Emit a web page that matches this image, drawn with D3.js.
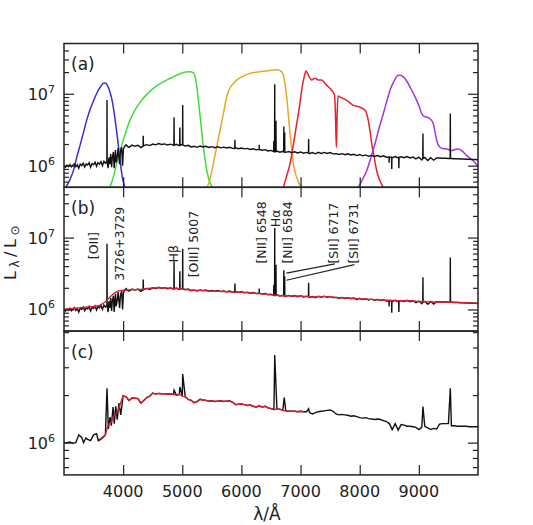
<!DOCTYPE html>
<html><head><meta charset="utf-8">
<script src="https://cdn.jsdelivr.net/npm/d3@7"></script>
<style>
body{margin:0;background:#fff}
text{font-family:"DejaVu Sans",sans-serif;fill:#222}
</style>
</head><body><svg id="c" width="533" height="525"></svg>
<script>
// ---------- DATA (luminosity in units of 1e6 L_sun) ----------
const xTicks = [4000, 5000, 6000, 7000, 8000, 9000];
const yMajorAB = [1, 10];
const yMinorAB = [0.6, 0.7, 0.8, 0.9, 2, 3, 4, 5, 6, 7, 8, 9, 20, 30, 40];
const yMajorC = [1];
const yMinorC = [0.7, 0.8, 0.9, 2, 3, 4, 5];
const panelLabels = ["(a)", "(b)", "(c)"];

// observed high-resolution spectrum [wavelength, L]
const specHi = [
[3000,1.00],[3025,0.95],[3050,1.02],[3075,0.97],[3100,1.04],[3125,0.96],[3150,1.01],[3175,1.06],
[3200,0.97],[3225,1.03],[3250,0.92],[3275,1.05],[3300,1.00],[3325,1.08],[3350,0.96],[3375,1.06],
[3400,1.02],[3425,1.10],[3450,0.95],[3475,1.07],[3500,1.03],[3525,1.12],[3550,0.98],[3575,1.10],
[3600,1.05],[3625,1.14],[3650,1.00],[3675,1.15],[3700,1.08],[3725,1.20],[3745,0.92],[3760,1.30],
[3775,1.05],[3790,1.45],[3805,0.95],[3815,1.25],[3835,1.55],[3848,0.92],[3870,1.65],[3882,1.10],
[3900,1.35],[3915,1.75],[3940,1.05],[3955,1.60],[3975,1.80],[3990,1.00],[4005,1.70],[4025,1.85],
[4050,1.95],[4075,1.85],[4100,1.80],[4150,1.93],[4200,1.86],[4250,1.92],
[4300,1.78],[4350,1.90],[4400,1.96],[4450,1.90],[4500,2.00],[4550,1.95],[4600,2.03],[4650,1.97],
[4700,2.01],[4750,1.94],[4800,1.99],[4850,1.92],[4900,1.98],[4950,1.90],[5000,1.96],[5050,1.88],
[5100,1.92],[5150,1.82],[5200,1.86],[5250,1.80],[5300,1.87],[5350,1.82],[5400,1.86],[5450,1.79],
[5500,1.84],[5550,1.78],[5600,1.83],[5650,1.77],[5700,1.81],[5750,1.76],[5800,1.80],[5850,1.74],
[5900,1.77],[5950,1.72],[6000,1.76],[6050,1.71],[6100,1.74],[6150,1.68],[6200,1.72],[6250,1.66],
[6300,1.70],[6350,1.64],[6400,1.67],[6450,1.60],[6500,1.63],[6550,1.56],[6600,1.60],[6650,1.54],
[6700,1.58],[6750,1.53],[6800,1.57],[6850,1.52],[6900,1.56],[6950,1.50],[7000,1.55],[7050,1.49],
[7100,1.53],[7150,1.47],[7200,1.52],[7250,1.46],[7300,1.53],[7350,1.48],[7400,1.53],[7450,1.48],
[7500,1.52],[7550,1.46],[7600,1.47],[7650,1.43],[7700,1.47],[7750,1.42],[7800,1.46],[7850,1.41],
[7900,1.44],[7950,1.38],[8000,1.43],[8050,1.37],[8100,1.41],[8150,1.35],[8200,1.39],[8250,1.34],
[8300,1.38],[8350,1.33],[8400,1.37],[8450,1.31],[8500,1.35],[8550,1.29],[8600,1.34],[8650,1.28],
[8700,1.33],[8750,1.29],[8800,1.34],[8850,1.28],[8900,1.32],[8950,1.24],[9000,1.31],[9050,1.20],
[9100,1.30],[9150,1.18],[9200,1.29],[9250,1.19],[9300,1.28],[9350,1.28],[9400,1.27],[9450,1.27],
[9500,1.26],[9550,1.26],[9600,1.25],[9650,1.25],[9700,1.24],[9750,1.24],[9800,1.23],[9850,1.23],
[9900,1.22],[9950,1.22],[10000,1.21]
];
// narrow features [wavelength, continuum, peak/trough]
const specHiLines = [
[3727,1.15,8.2],
[4340,1.88,2.6],[4861,1.93,4.7],[4959,1.92,3.4],[5007,1.93,7.0],[5890,1.75,2.3],[6300,1.68,1.95],
[6548,1.57,2.2],[6563,1.57,13.6],[6584,1.57,4.2],[6717,1.55,3.5],[6731,1.55,2.9],[7136,1.50,2.35],
[8498,1.32,1.10],[8542,1.30,0.90],[8662,1.30,0.92],[9069,1.26,2.8],[9532,1.26,5.3]
];
// model fit for panel (b)
const modelHi = [
[3000,1.00],[3100,1.02],[3200,1.04],[3300,1.06],[3400,1.08],[3500,1.10],[3600,1.14],[3700,1.28],
[3800,1.55],[3900,1.78],[4000,1.86],[4100,1.87],[4200,1.89],[4300,1.90],[4400,1.95],[4500,1.99],
[4600,2.00],[4700,1.99],[4800,1.97],[4900,1.95],[5000,1.93],[5100,1.88],[5200,1.84],[5300,1.84],
[5400,1.82],[5500,1.80],[5600,1.79],[5700,1.78],[5800,1.76],[5900,1.74],[6000,1.73],[6100,1.71],
[6200,1.69],[6300,1.67],[6400,1.64],[6500,1.60],[6600,1.57],[6700,1.55],[6800,1.55],[6900,1.54],
[7000,1.53],[7100,1.51],[7200,1.49],[7300,1.50],[7400,1.51],[7500,1.50],[7600,1.47],[7700,1.45],
[7800,1.44],[7900,1.42],[8000,1.41],[8100,1.39],[8200,1.38],[8300,1.36],[8400,1.35],[8500,1.34],
[8600,1.33],[8700,1.32],[8800,1.32],[8900,1.31],[9000,1.29],[9100,1.28],[9200,1.27],[9300,1.27],
[9400,1.27],[9500,1.26],[9600,1.26],[9700,1.25],[9800,1.24],[9900,1.23],[10000,1.22]
];
// low-resolution spectrum, panel (c): black parts outside the model range
const specLo = [
[3000,1.00],[3050,1.00],[3100,1.01],[3150,0.99],[3200,1.00],[3250,1.12],[3300,1.08],[3330,1.00],
[3370,1.07],[3400,1.05],[3450,1.03],[3500,1.12],[3550,1.14],[3580,1.03],[3620,1.05],[3660,1.08],
[3700,1.12],[3750,1.22],[3780,1.45],[3800,1.28],[3830,1.68],[3850,1.32],[3875,1.70],[3900,1.40],
[3930,1.78],[3960,1.50],
[7100,1.57],[7150,1.55],[7200,1.52],[7250,1.55],[7300,1.57],[7350,1.58],[7400,1.59],[7450,1.60],
[7500,1.61],[7550,1.58],[7600,1.52],[7650,1.50],[7700,1.51],[7750,1.50],[7800,1.49],[7850,1.47],
[7900,1.48],[7950,1.46],[8000,1.44],[8050,1.43],[8100,1.44],[8150,1.42],[8200,1.41],[8250,1.40],
[8300,1.41],[8350,1.40],[8400,1.38],[8450,1.36],[8500,1.32],[8550,1.21],[8600,1.32],[8650,1.20],
[8700,1.30],[8750,1.29],[8800,1.27],[8850,1.27],[8900,1.26],[8950,1.25],[9000,1.21],[9050,1.25],
[9100,1.27],[9150,1.24],[9200,1.21],[9250,1.23],[9300,1.22],[9350,1.31],[9400,1.32],[9450,1.32],
[9500,1.32],[9550,1.28],[9600,1.28],[9650,1.27],[9700,1.27],[9750,1.27],[9800,1.27],[9850,1.26],
[9900,1.26],[9950,1.26],[10000,1.26]
];
// model fit, panel (c)
const modelLo = [
[3600,1.05],[3650,1.08],[3700,1.12],[3750,1.30],[3800,1.35],[3850,1.50],[3900,1.55],[3950,1.75],
[4000,1.98],[4050,1.95],[4100,1.85],[4150,1.92],[4200,1.91],[4250,1.90],[4300,1.78],[4350,1.85],
[4400,1.93],[4450,1.97],[4500,2.06],[4550,2.03],[4600,2.05],[4650,2.04],[4700,2.04],[4750,2.03],
[4800,2.04],[4850,2.02],[4900,2.00],[4950,2.02],[5000,1.97],[5050,1.95],[5100,1.88],[5150,1.85],
[5200,1.79],[5250,1.82],[5300,1.88],[5350,1.86],[5400,1.85],[5450,1.83],[5500,1.84],[5550,1.82],
[5600,1.83],[5650,1.84],[5700,1.82],[5750,1.83],[5800,1.84],[5850,1.80],[5900,1.74],[5950,1.75],
[6000,1.76],[6050,1.74],[6100,1.72],[6150,1.73],[6200,1.70],[6250,1.68],[6300,1.71],[6350,1.68],
[6400,1.70],[6450,1.66],[6500,1.64],[6550,1.62],[6600,1.63],[6650,1.63],[6700,1.60],[6750,1.59],
[6800,1.58],[6850,1.58],[6900,1.58],[6950,1.57],[7000,1.58],[7050,1.57]
];
const specLoLines = [[3727,2.21],[4861,2.15],[4959,2.25],[5007,2.72],[6563,3.59],[6724,1.93],[7136,1.64],[9069,1.69],[9532,2.21]];

// filter curves, panel (a)
const filterU = [[3030,0.5],[3100,0.64],[3160,0.86],[3215,1.3],[3270,1.9],[3330,2.9],[3384,4.3],[3440,6.0],[3500,8.0],[3560,10.4],[3620,12.6],[3670,14.0],[3700,14.1],[3740,12.8],[3780,10.4],[3820,7.6],[3860,4.6],[3890,3.0],[3920,1.9],[3950,1.15],[3985,0.7],[4030,0.5]];
const filterG = [[3778,0.5],[3840,0.72],[3891,1.08],[3950,1.6],[4003,2.3],[4060,3.2],[4116,4.3],[4200,5.9],[4285,7.6],[4400,9.8],[4510,11.9],[4620,13.7],[4736,15.5],[4850,17.2],[4961,19.0],[5060,20.1],[5130,20.3],[5190,19.5],[5225,16.0],[5255,11.0],[5285,6.5],[5315,3.8],[5345,2.2],[5380,1.3],[5415,0.85],[5460,0.6],[5510,0.5]];
const filterR = [[5420,0.5],[5470,0.65],[5524,1.06],[5580,1.8],[5638,3.1],[5695,5.3],[5751,9.0],[5800,11.8],[5860,13.8],[5920,15.5],[6030,17.6],[6145,19.2],[6280,20.1],[6427,20.8],[6597,21.5],[6660,20.8],[6708,18.5],[6737,13.5],[6766,9.0],[6793,5.2],[6821,2.8],[6850,1.7],[6877,1.1],[6910,0.8],[6960,0.6],[7020,0.5]];
const filterI = [[6708,0.5],[6765,0.72],[6821,1.06],[6880,2.0],[6934,3.8],[6980,6.5],[7019,11.2],[7060,17.0],[7092,20.8],[7131,18.1],[7170,16.0],[7188,15.5],[7244,16.4],[7300,15.5],[7357,15.5],[7413,13.9],[7470,12.5],[7526,11.2],[7575,9.5],[7590,5.0],[7605,1.8],[7618,5.0],[7635,9.3],[7667,9.0],[7780,8.1],[7891,6.9],[8005,6.5],[8089,5.9],[8145,4.26],[8175,3.0],[8203,2.0],[8245,1.3],[8287,0.85],[8340,0.62],[8399,0.5]];
const filterZ = [[7976,0.5],[8050,0.65],[8118,0.85],[8190,1.3],[8258,2.0],[8330,3.4],[8399,5.28],[8460,8.0],[8512,11.2],[8580,15.0],[8652,18.1],[8700,18.0],[8737,17.2],[8800,14.8],[8850,12.4],[8910,10.0],[8963,8.1],[9010,6.5],[9048,5.28],[9100,4.8],[9133,4.74],[9188,4.5],[9244,3.83],[9275,2.9],[9301,2.24],[9357,1.80],[9410,1.72],[9470,1.71],[9555,1.62],[9610,1.68],[9667,1.71],[9724,1.62],[9809,1.38],[9920,1.17],[10000,0.97]];
const filterNames = ["u", "g", "r", "i", "z"];

// line identification labels in panel (b): text, wavelength of label centre, value at label foot
const lineLabelText = ["[OII]", "3726+3729", "H\u03B2", "[OIII] 5007", "[NII] 6548", "H\u03B1", "[NII] 6584", "[SII] 6717", "[SII] 6731"];
const lineLabelWave = [3507, 3935, 4851, 5198, 6331, 6576, 6779, 7565, 7895];
const lineLabelFoot = [5.0, 2.5, 4.5, 2.8, 4.35, 13.9, 4.35, 4.35, 4.35];
// leader lines from [SII] labels to the lines: [from wave, from value, to wave, to value]
const leaders = [[7580, 4.3, 6760, 3.2], [7910, 4.2, 6760, 2.55]];

// ---------- LAYOUT ----------
const svg = d3.select("#c");
const left = 64, right = 478;
const tops = [43.5, 187.3, 331.1], PH = 143.8;
const x = d3.scaleLinear().domain([3000, 10000]).range([left, right]);
const yScales = [
  d3.scaleLog().domain([0.5, 50]).range([tops[0] + PH, tops[0]]),
  d3.scaleLog().domain([0.5, 50]).range([tops[1] + PH, tops[1]]),
  d3.scaleLog().domain([0.625, 5.08]).range([tops[2] + PH, tops[2]])
];
const ink = "#222";
const filterColors = ["#3a2fd0", "#3fdc3a", "#e8a82a", "#e8202e", "#a036e0"];
const redModel = "#d81f35";

const defs = svg.append("defs");
tops.forEach((t, i) => {
  defs.append("clipPath").attr("id", "clip" + i)
    .append("rect").attr("x", left).attr("y", t).attr("width", right - left).attr("height", PH);
});

function merge3(base, feats) {
  const pts = base.slice();
  feats.forEach(([w, c, p]) => { pts.push([w - 3, c], [w, p], [w + 3, c]); });
  return pts.sort((a, b) => a[0] - b[0]);
}
const hiSeries = merge3(specHi, specHiLines);
const loSeries = specLo.concat(modelLo.filter(d => d[0] >= 4000 && d[0] <= 7050), specLoLines)
  .sort((a, b) => a[0] - b[0]);

function lineGen(y) { return d3.line().x(d => x(d[0])).y(d => y(d[1])); }

// panel (a): filters + spectrum
const gA = svg.append("g").attr("clip-path", "url(#clip0)");
[filterU, filterG, filterR, filterI, filterZ].forEach((f, i) => {
  gA.append("path").datum(f).attr("d", lineGen(yScales[0]).curve(d3.curveMonotoneX))
    .attr("fill", "none").attr("stroke", filterColors[i]).attr("stroke-width", 1.5)
    .attr("class", "filter-" + filterNames[i]);
});
gA.append("path").datum(hiSeries).attr("d", lineGen(yScales[0]))
  .attr("fill", "none").attr("stroke", "#111").attr("stroke-width", 1.4);

// panel (b): spectrum + model
const gB = svg.append("g").attr("clip-path", "url(#clip1)");
gB.append("path").datum(hiSeries).attr("d", lineGen(yScales[1]))
  .attr("fill", "none").attr("stroke", "#111").attr("stroke-width", 1.4);
gB.append("path").datum(modelHi).attr("d", lineGen(yScales[1]).curve(d3.curveMonotoneX))
  .attr("fill", "none").attr("stroke", redModel).attr("stroke-width", 1.4);

// panel (c)
const gC = svg.append("g").attr("clip-path", "url(#clip2)");
gC.append("path").datum(loSeries).attr("d", lineGen(yScales[2]))
  .attr("fill", "none").attr("stroke", "#111").attr("stroke-width", 1.4);
gC.append("path").datum(modelLo).attr("d", lineGen(yScales[2]))
  .attr("fill", "none").attr("stroke", redModel).attr("stroke-width", 1.4);

// line labels (b)
const yB = yScales[1];
lineLabelText.forEach((t, i) => {
  svg.append("text")
    .attr("transform", `translate(${x(lineLabelWave[i])},${yB(lineLabelFoot[i])}) rotate(-90)`)
    .attr("dy", "0.36em").attr("font-size", 12.5).attr("text-anchor", "start")
    .text(t);
});
leaders.forEach(l => {
  svg.append("line").attr("x1", x(l[0])).attr("y1", yB(l[1])).attr("x2", x(l[2])).attr("y2", yB(l[3]))
    .attr("stroke", ink).attr("stroke-width", 1.1);
});

// axes / frames
function styleAxis(g) {
  g.select(".domain").remove();
  g.selectAll(".tick line").attr("stroke", ink).attr("stroke-width", 1.2);
}
tops.forEach((t, i) => {
  const y = yScales[i];
  const b = t + PH;
  svg.append("g").attr("transform", `translate(0,${t})`)
    .call(d3.axisBottom(x).tickValues(xTicks).tickSize(10).tickFormat("")).call(styleAxis);
  svg.append("g").attr("transform", `translate(0,${b})`)
    .call(d3.axisTop(x).tickValues(xTicks).tickSize(10).tickFormat("")).call(styleAxis);
  const majors = i < 2 ? yMajorAB : yMajorC;
  const minors = i < 2 ? yMinorAB : yMinorC;
  [[majors, 10], [minors, 5]].forEach(([vals, len]) => {
    svg.append("g").attr("transform", `translate(${left},0)`)
      .call(d3.axisRight(y).tickValues(vals).tickSize(len).tickFormat("")).call(styleAxis);
    svg.append("g").attr("transform", `translate(${right},0)`)
      .call(d3.axisLeft(y).tickValues(vals).tickSize(len).tickFormat("")).call(styleAxis);
  });
  svg.append("rect").attr("x", left).attr("y", t).attr("width", right - left).attr("height", PH)
    .attr("fill", "none").attr("stroke", ink).attr("stroke-width", 1.5);
  // y tick labels
  majors.forEach(v => {
    const txt = svg.append("text").attr("x", 55).attr("y", y(v) + 6)
      .attr("text-anchor", "end").attr("font-size", 16);
    txt.append("tspan").text("10");
    txt.append("tspan").attr("dy", -7).attr("font-size", 11).text(String(Math.round(Math.log10(v * 1e6))));
  });
  // panel label
  svg.append("text").attr("x", 71).attr("y", t + 26.5).attr("font-size", 17).text(panelLabels[i]);
});

// x tick labels
xTicks.forEach(v => {
  svg.append("text").attr("x", x(v)).attr("y", 496.5).attr("text-anchor", "middle")
    .attr("font-size", 16).text(v);
});
// axis titles
svg.append("text").attr("x", 267).attr("y", 520).attr("text-anchor", "middle")
  .attr("font-size", 17).text("\u03BB/\u00C5");
const yt = svg.append("text").attr("transform", "translate(16,251) rotate(-90)")
  .attr("text-anchor", "middle").attr("font-size", 16).attr("letter-spacing", 3.5);
yt.append("tspan").text("L");
yt.append("tspan").attr("dy", 3).attr("font-size", 12).text("\u03BB");
yt.append("tspan").attr("dy", -3).text("/L");
yt.append("tspan").attr("dy", 3).attr("font-size", 12).text("\u2299");
</script>
</body></html>
